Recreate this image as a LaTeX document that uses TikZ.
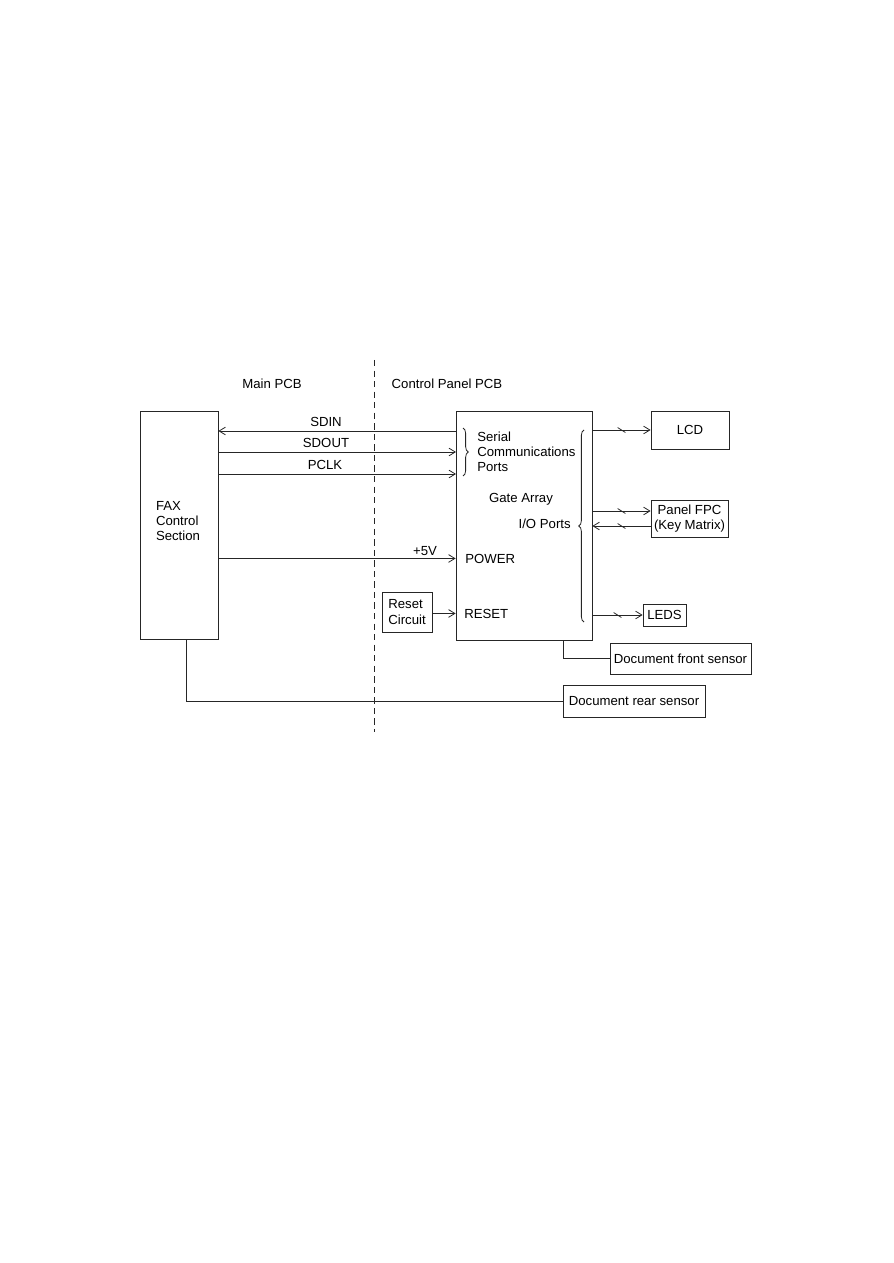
\documentclass[tikz,border=0pt]{standalone}
\usepackage{fontspec}
\setmainfont{Liberation Sans}
\usetikzlibrary{arrows.meta,positioning,calc,decorations.pathreplacing,decorations.markings}
\newlength\pxl
\setlength\pxl{0.02cm}

\begin{document}
\begin{tikzpicture}[
    x=\pxl, y=-\pxl,
    box/.style   = {rectangle, draw=black!85, line width=0.45pt, inner sep=0pt, align=center,
                    font=\fontsize{7.5}{8.7}\selectfont},
    lbl/.style   = {inner sep=0pt, font=\fontsize{7.5}{8.7}\selectfont},
    arr/.style   = {-{Straight Barb[length=3.6pt,width=4.4pt]}, line width=0.45pt, draw=black!85},
    wire/.style  = {line width=0.45pt, draw=black!85},
    bus/.style   = {postaction={decorate},
                    decoration={markings, mark=at position 0.5 with
                      {\draw[-, line width=0.45pt, draw=black!85] (-2.2pt,1.4pt) -- (2.2pt,-1.4pt);}}},
    brc/.style   = {decorate, decoration={brace, amplitude=3pt}, line width=0.45pt, draw=black!85},
    divider/.style = {line width=0.45pt, draw=black!85, dash pattern=on 3.6pt off 2.4pt}
  ]
    \useasboundingbox (0,0) rectangle (893,1263);

    % boundary between the two boards
    \coordinate (divtop) at (374,360);
    \coordinate (divbot) at (374,732);
    \draw[divider] (divtop) -- (divbot);
    \node[lbl, anchor=base] (mainpcb) at (272,389) {Main PCB};
    \node[lbl, anchor=base] (cppcb)   at (447,389) {Control Panel PCB};

    % blocks
    \node[box, minimum width=78\pxl,  minimum height=228\pxl] (fax) at (179,525) {};
    \node[lbl, align=left] (faxtxt) at (178,521) {FAX\\Control\\Section};
    \node[box, minimum width=136\pxl, minimum height=229\pxl] (ga)  at (524,525.5) {};
    \node[box, align=left, minimum width=50\pxl, minimum height=40\pxl] (reset) at (407,612) {Reset\\Circuit};
    \node[box, minimum width=78\pxl,  minimum height=38\pxl] (lcd)   at (690,430) {LCD};
    \node[box, minimum width=77\pxl,  minimum height=37\pxl] (fpc)   at (689.5,518.5) {Panel FPC\\(Key Matrix)};
    \node[box, minimum width=43\pxl,  minimum height=22\pxl] (leds)  at (664.5,615) {LEDS};
    \node[box, minimum width=141\pxl, minimum height=31\pxl] (front) at (680.5,658.5) {Document front sensor};
    \node[box, minimum width=142\pxl, minimum height=32\pxl] (rear)  at (634,701) {Document rear sensor};

    % texts inside the gate array
    \node[lbl, align=left, anchor=west] (serial) at (477,452) {Serial\\Communications\\Ports};
    \node[lbl, anchor=base] (gatelbl)  at (521,502) {Gate Array};
    \node[lbl, anchor=base east] (iolbl) at (571,528) {I/O Ports};
    \node[lbl, anchor=base west] (power) at (465,563) {POWER};
    \node[lbl, anchor=base west] (resetlbl) at (464,618) {RESET};
    \draw[brc] (463,428) -- (463,476);
    \draw[brc] (584,622) -- (584,430);

    % serial lines
    \coordinate (sdin)  at (456,431);
    \coordinate (sdout) at (456,452);
    \coordinate (pclk)  at (456,474);
    \node[lbl, anchor=base] (sdinlbl)  at (326,426) {SDIN};
    \node[lbl, anchor=base] (sdoutlbl) at (326,447) {SDOUT};
    \node[lbl, anchor=base] (pclklbl)  at (325,469) {PCLK};
    \draw[arr] (sdin) -- (fax.east |- sdin);
    \draw[arr] (fax.east |- sdout) -- (sdout);
    \draw[arr] (fax.east |- pclk) -- (pclk);

    % power and reset
    \draw[arr] (fax.east |- power) -- (ga.west |- power);
    \node[lbl, anchor=base] (vcc) at (425,555) {+5V};
    \draw[arr] (reset.east |- resetlbl) -- (ga.west |- resetlbl);

    % I/O ports
    \coordinate (fpcout) at ([yshift=7.5\pxl]fpc.west);
    \coordinate (fpcin)  at ([yshift=-7.5\pxl]fpc.west);
    \draw[arr, bus] (ga.east |- lcd) -- (lcd);
    \draw[arr, bus] (ga.east |- fpcout) -- (fpcout);
    \draw[arr, bus] (fpcin) -- (ga.east |- fpcin);
    \draw[arr, bus] (ga.east |- leds) -- (leds);

    % sensors
    \draw[wire] ([xshift=39\pxl]ga.south) |- (front);
    \draw[wire] ([xshift=7\pxl]fax.south) |- (rear);
  \end{tikzpicture}
\end{document}
